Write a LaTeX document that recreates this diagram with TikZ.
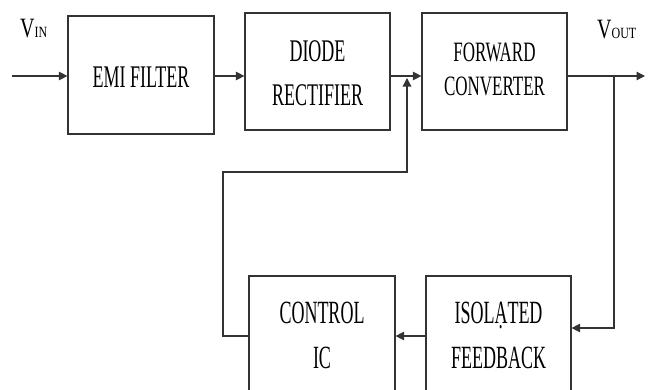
\documentclass[tikz,border=0pt]{standalone}
\usepackage{fontspec}
\setmainfont{Liberation Serif}
\usetikzlibrary{arrows.meta}

\newcommand{\blk}[3][0pt]{\raisebox{#1}[\height][\depth]{\scalebox{1}[#2]{\begin{tabular}{@{}c@{}}#3\end{tabular}}}}
\newcommand{\vsub}[1]{\scalebox{1}[1.4]{\fontsize{20}{20}\selectfont V}\scalebox{1}[1.3]{\fontsize{12}{12}\selectfont #1}}

\tikzset{
	box/.style={draw=black!80, line width=1.2pt, minimum width=145pt, minimum height=117pt, inner sep=0pt, font=\fontsize{18}{25}\selectfont},
	wire/.style={draw=black!80, line width=1.2pt},
	arr/.style={wire, -{Triangle[length=8.5pt,width=8.5pt]}}
}

\begin{document}
\begin{tikzpicture}[x=1pt,y=-1pt]
	\useasboundingbox (0,0) rectangle (648,389);
	\clip (0,0) rectangle (648,389);
	% blocks
	\node[box, minimum width=146pt, minimum height=118pt] (emi) at (141,75) {\blk[-4pt]{1.75}{EMI FILTER}};
	\node[box] (dio) at (317.5,71.5) {\blk[-3pt]{1.75}{DIODE\\RECTIFIER}};
	\node[box, font=\fontsize{17}{20.6}\selectfont] (fwd) at (494.5,71.5) {\blk{1.65}{FORWARD\\CONVERTER}};
	\node[box, minimum width=146pt] (ctl) at (322,334.5) {\blk[-2pt]{1.8}{CONTROL\\IC}};
	\node[box] (iso) at (498.5,334.5) {\blk[-2pt]{1.8}{ISOLẠTED\\FEEDBACK}};
	% labels
	\node[anchor=base west, inner sep=0pt] (vin) at (20,37) {\vsub{IN}};
	\node[anchor=base west, inner sep=0pt] (vout) at (597,38) {\vsub{OUT}};
	% points
	\coordinate (in) at (12,76);
	\coordinate (out) at (645,76);
	\coordinate (tap) at (614,76);
	\coordinate (fb) at (614,328);
	\coordinate (lft) at (223,336);
	\coordinate (top) at (407,172);
	\coordinate (tip) at (407,78);
	% forward path
	\draw[arr] (in) -- (in -| emi.west);
	\draw[arr] (emi.east |- in) -- (dio.west |- in);
	\draw[arr] (dio.east |- in) -- (fwd.west |- in);
	\draw[arr] (fwd.east |- in) -- (out);
	% feedback path
	\draw[arr] (tap) -- (fb) -- (fb -| iso.east);
	\draw[arr] (iso.west |- lft) -- (ctl.east |- lft);
	\draw[arr] (ctl.west |- lft) -- (lft) |- (top) -- (tip);
\end{tikzpicture}
\end{document}
